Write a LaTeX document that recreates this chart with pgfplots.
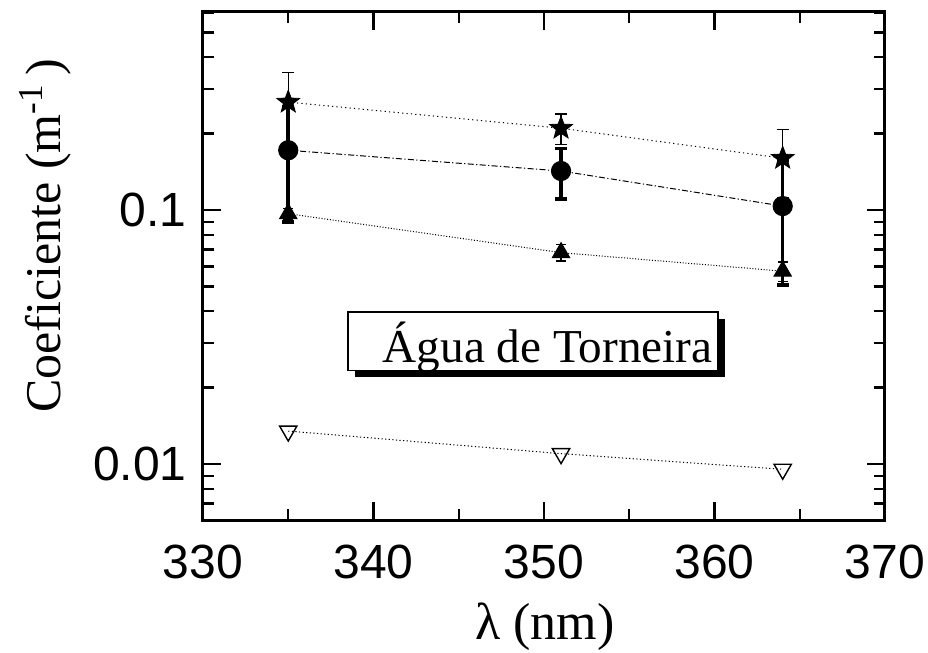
\documentclass[border=0pt]{standalone}
\usepackage{pgfplots}
\pgfplotsset{compat=1.18}
\usepackage{fontspec}
\setmainfont{Liberation Serif}
\newfontfamily\arial{Liberation Sans}
\pgfdeclareplotmark{fstar}{%
  \pgfpathmoveto{\pgfqpointpolar{90}{\pgfplotmarksize}}%
  \pgfpathlineto{\pgfqpointpolar{126}{0.42\pgfplotmarksize}}%
  \pgfpathlineto{\pgfqpointpolar{162}{\pgfplotmarksize}}%
  \pgfpathlineto{\pgfqpointpolar{198}{0.42\pgfplotmarksize}}%
  \pgfpathlineto{\pgfqpointpolar{234}{\pgfplotmarksize}}%
  \pgfpathlineto{\pgfqpointpolar{270}{0.42\pgfplotmarksize}}%
  \pgfpathlineto{\pgfqpointpolar{306}{\pgfplotmarksize}}%
  \pgfpathlineto{\pgfqpointpolar{342}{0.42\pgfplotmarksize}}%
  \pgfpathlineto{\pgfqpointpolar{18}{\pgfplotmarksize}}%
  \pgfpathlineto{\pgfqpointpolar{54}{0.42\pgfplotmarksize}}%
  \pgfpathclose
  \pgfusepathqfillstroke}
\begin{document}
\begin{tikzpicture}
\useasboundingbox (-101.5pt,-66.5pt) rectangle (362.5pt,260pt);
\begin{axis}[
  at={(0,0)}, anchor=south west,
  scale only axis, width=341pt, height=254pt,
  xmin=330, xmax=370, ymin=0.00603, ymax=0.602,
  ymode=log,
  axis line style={line width=1.5pt},
  every tick/.style={black, line width=1.2pt},
  major tick length=9pt, minor tick length=5.5pt,
  tick align=inside,
  xtick={330,340,350,360,370},
  minor xtick={335,345,355,365},
  ytick={0.01,0.1}, yticklabels={0.01,0.1},
  minor ytick={0.006,0.007,0.008,0.009,0.02,0.03,0.04,0.05,0.06,0.07,0.08,0.09,0.2,0.3,0.4,0.5,0.6},
  /pgf/number format/assume math mode=true,
  /pgf/number format/1000 sep={},
  ticklabel style={font=\arial\fontsize{24}{24}\selectfont},
  xticklabel style={inner sep=0pt, yshift=-12.5pt},
  yticklabel style={inner sep=0pt, xshift=-8pt},
  clip=false,
]
% box with shadow
\fill[black] (axis cs:338.91,0.02203) rectangle (axis cs:360.62,0.03724);
\draw[fill=white, line width=0.8pt] (axis cs:338.5,0.02341) rectangle (axis cs:360.2,0.03965);
\node[anchor=base east, inner sep=0pt, font=\fontsize{23.6}{24}\selectfont] at (axis cs:359.9,0.0252) {Água de Torneira};

% stars
\addplot[black, line width=0.5pt, dash pattern=on 0.6pt off 1.6pt,
  mark=fstar, mark size=6pt, mark options={solid, fill=black, line width=0.4pt},
  error bars/.cd, y dir=both, y explicit,
  error bar style={line width=0.6pt, solid},
  error mark=-, error mark options={rotate=90, line width=0.6pt, mark size=3pt, solid}]
  table[x=x, y=y, y error=e] {
x y e
335 0.266 0.083
351 0.210 0.029
364 0.160 0.048
};
% circles
\addplot[black, line width=0.5pt, dash pattern=on 3pt off 1.2pt on 0.6pt off 1.2pt,
  mark=*, mark size=4.8pt, mark options={solid, fill=black},
  error bars/.cd, y dir=both, y explicit,
  error bar style={line width=1.8pt, solid},
  error mark=-, error mark options={rotate=90, line width=1.8pt, mark size=3pt, solid}]
  table[x=x, y=y, y error=e] {
x y e
335 0.172 0.082
351 0.1425 0.032
364 0.1037 0.053
};
% filled triangles
\addplot[black, line width=0.5pt, dash pattern=on 0.5pt off 0.9pt,
  mark=triangle*, mark size=5pt, mark options={solid, fill=black},
  error bars/.cd, y dir=both, y explicit,
  error bar style={line width=0.6pt, solid},
  error mark=-, error mark options={rotate=90, line width=0.6pt, mark size=2.5pt, solid}]
  table[x=x, y=y, y error=e] {
x y e
335 0.0968 0.005
351 0.0680 0.005
364 0.0575 0.005
};
% open down triangles
\addplot[black, line width=0.5pt, dash pattern=on 0.6pt off 1.2pt,
  mark=triangle, mark size=5pt, mark options={solid, rotate=180, line width=0.7pt, fill=white}]
  table[x=x, y=y] {
x y
335 0.0135
351 0.0110
364 0.00955
};
\end{axis}
\node[rotate=90, anchor=center, font=\fontsize{25}{25}\selectfont] at (-79pt,142pt) {Coeficiente (m\textsuperscript{-1}\,)};
\node[anchor=base, font=\fontsize{26}{26}\selectfont] at (171pt,-60pt) {λ (nm)};
\end{tikzpicture}
\end{document}
